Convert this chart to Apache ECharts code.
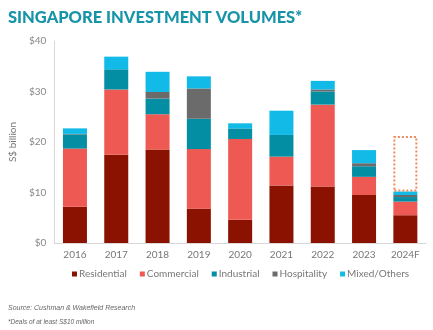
<!DOCTYPE html>
<html><head><meta charset="utf-8">
<script src="https://cdn.jsdelivr.net/npm/echarts@6/dist/echarts.min.js"></script>
<style>html,body{margin:0;padding:0;background:#fff}#c{width:433px;height:330px}</style>
</head><body><div id="c"></div>
<script>
var categories = ['2016','2017','2018','2019','2020','2021','2022','2023','2024F'];
var residential = [7.2, 17.5, 18.5, 6.8, 4.6, 11.4, 11.2, 9.5, 5.5];
var commercial  = [11.5, 12.9, 7.0, 11.8, 16.0, 5.7, 16.2, 3.6, 2.7];
var industrial  = [2.8, 4.0, 3.1, 6.0, 2.1, 4.3, 2.6, 2.1, 0.9];
var hospitality = [0.1, 0, 1.3, 6.0, 0, 0, 0.4, 0.6, 0.4];
var mixed       = [1.1, 2.5, 4.0, 2.4, 1.0, 4.8, 1.7, 2.6, 0.7];
var forecastGap = [null, null, null, null, null, null, null, null, 11.0];
var yTicks = [0, 10, 20, 30, 40];

var chart = echarts.init(document.getElementById('c'));
function bar(name, data, color) {
  return {name: name, type: 'bar', stack: 'total', data: data, barWidth: 24,
    itemStyle: {color: color}, emphasis: {disabled: true}};
}
chart.setOption({
  animation: false,
  title: [
    {text: 'SINGAPORE INVESTMENT VOLUMES*', left: 3, top: 4,
     textStyle: {fontFamily: 'Lato', fontWeight: 900, fontSize: 16.5, color: '#1794A8'}},
    {text: 'Source: Cushman & Wakefield Research', left: 3, top: 300,
     textStyle: {fontFamily: 'Liberation Sans', fontStyle: 'italic', fontWeight: 'normal', fontSize: 7, color: '#666'}},
    {text: '*Deals of at least S$10 million', left: 3, top: 314,
     textStyle: {fontFamily: 'Liberation Sans', fontStyle: 'italic', fontWeight: 'normal', fontSize: 6.5, color: '#666'}}
  ],
  grid: {left: 48, right: 7, top: 41, bottom: 87, containLabel: false},
  legend: {
    data: ['Residential','Commercial','Industrial','Hospitality','Mixed/Others'],
    bottom: 46, left: 67, itemWidth: 5, itemHeight: 5, itemGap: 13,
    icon: 'rect', textStyle: {fontFamily: 'Lato', fontSize: 10, color: '#777', padding: [0,0,0,-3]}
  },
  xAxis: {
    type: 'category', data: categories,
    axisLine: {lineStyle: {color: '#d8d8d8'}}, axisTick: {show: false},
    axisLabel: {fontFamily: 'Lato', fontSize: 10, color: '#777', margin: 7}
  },
  yAxis: {
    type: 'value', min: 0, max: 40, interval: 10,
    name: 'S$ billion', nameLocation: 'middle', nameGap: 22,
    nameTextStyle: {fontFamily: 'Lato', fontSize: 10, color: '#777'},
    axisLine: {show: true, lineStyle: {color: '#d8d8d8'}}, axisTick: {show: false},
    splitLine: {show: false},
    axisLabel: {fontFamily: 'Lato', fontSize: 10, color: '#888', margin: 8,
      formatter: function(v){ return yTicks.indexOf(v) >= 0 ? '$' + v : ''; }}
  },
  series: [
    bar('Residential', residential, '#8B1100'),
    bar('Commercial', commercial, '#EF5953'),
    bar('Industrial', industrial, '#038EA3'),
    bar('Hospitality', hospitality, '#6B6B6B'),
    bar('Mixed/Others', mixed, '#12BAE8'),
    {name: 'Forecast', type: 'bar', stack: 'total', data: forecastGap, barWidth: 24,
     itemStyle: {color: 'rgba(0,0,0,0)', borderColor: '#EE8A5E', borderWidth: 2, borderType: [2, 2]},
     emphasis: {disabled: true}}
  ]
});
</script></body></html>
